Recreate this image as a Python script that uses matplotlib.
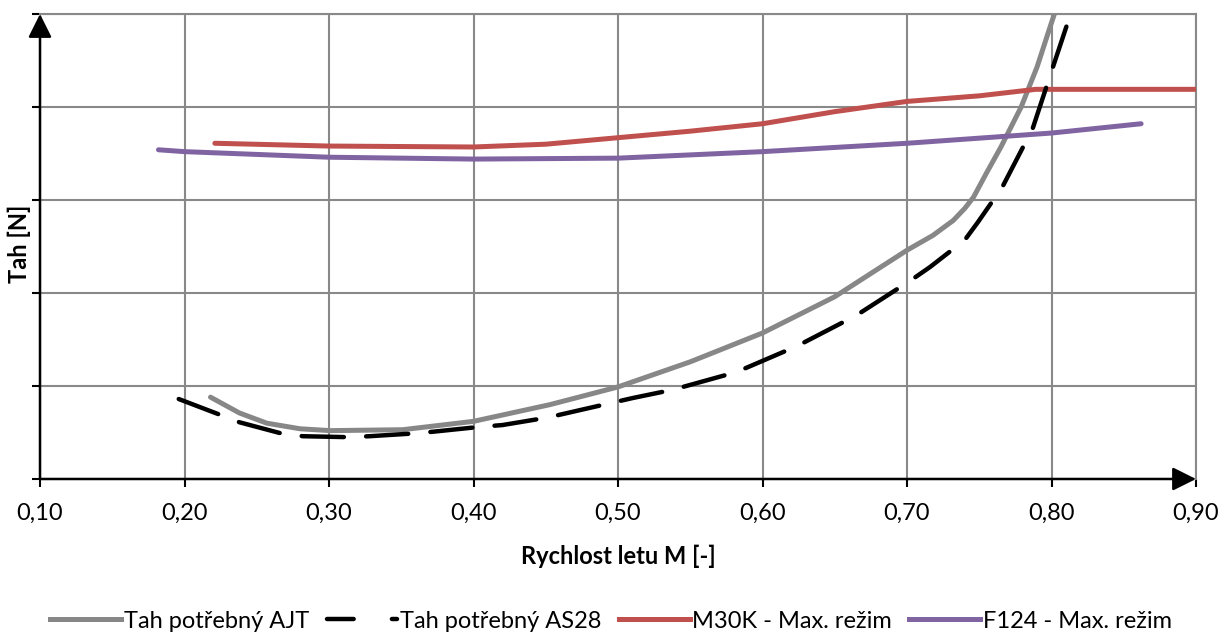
import numpy as np
import matplotlib.pyplot as plt
from matplotlib.lines import Line2D

plt.rcParams['font.family'] = ['Lato', 'DejaVu Sans']

# Tah potřebný AJT (gray)
m_ajt = [0.218, 0.238, 0.257, 0.280, 0.301, 0.351, 0.40, 0.453, 0.50, 0.55,
         0.60, 0.65, 0.681, 0.70, 0.718, 0.732, 0.740, 0.746, 0.755, 0.765,
         0.779, 0.790, 0.799, 0.802]
t_ajt = [0.88, 0.71, 0.60, 0.54, 0.52, 0.53, 0.62, 0.80, 0.99, 1.26,
         1.57, 1.96, 2.27, 2.46, 2.62, 2.78, 2.91, 3.03, 3.29, 3.57,
         4.00, 4.43, 4.86, 5.00]

# Tah potřebný AS28 (black dashed)
m_as28 = [0.196, 0.223, 0.238, 0.267, 0.282, 0.313, 0.328, 0.359, 0.373, 0.404,
          0.420, 0.451, 0.510, 0.538, 0.582, 0.624, 0.665, 0.703, 0.716, 0.740,
          0.749, 0.766, 0.787, 0.801, 0.813]
t_as28 = [0.86, 0.70, 0.61, 0.49, 0.46, 0.45, 0.46, 0.49, 0.51, 0.56,
          0.58, 0.66, 0.87, 0.96, 1.15, 1.43, 1.76, 2.14, 2.28, 2.57,
          2.76, 3.14, 3.77, 4.43, 4.99]

# M30K - Max. režim (red)
m_m30k = [0.221, 0.30, 0.40, 0.45, 0.50, 0.55, 0.60, 0.65, 0.70, 0.75, 0.789, 0.90]
t_m30k = [3.61, 3.58, 3.57, 3.60, 3.67, 3.74, 3.82, 3.95, 4.06, 4.12, 4.19, 4.19]

# F124 - Max. režim (purple)
m_f124 = [0.182, 0.20, 0.30, 0.40, 0.50, 0.60, 0.70, 0.80, 0.862]
t_f124 = [3.54, 3.52, 3.46, 3.44, 3.45, 3.52, 3.61, 3.72, 3.82]

x_ticks = [0.1, 0.2, 0.3, 0.4, 0.5, 0.6, 0.7, 0.8, 0.9]
x_labels = ['0,10', '0,20', '0,30', '0,40', '0,50', '0,60', '0,70', '0,80', '0,90']

fig = plt.figure(figsize=(12.22, 6.38), dpi=100)
ax = fig.add_axes([40 / 1222, 1 - 479 / 638, 1156 / 1222, 465 / 638])

grid_c = '#898989'
lw = 3.6
ax.plot(m_ajt, t_ajt, color='#878787', lw=lw, solid_capstyle='round',
        solid_joinstyle='round', zorder=3)
ax.plot(m_as28, t_as28, color='black', lw=3.2, dashes=(9.5, 5),
        dash_capstyle='round', dash_joinstyle='round', zorder=4)
ax.plot(m_m30k, t_m30k, color='#C0504D', lw=lw, solid_capstyle='round',
        solid_joinstyle='round', zorder=3)
ax.plot(m_f124, t_f124, color='#8064A2', lw=lw, solid_capstyle='round',
        solid_joinstyle='round', zorder=3)

ax.set_xlim(0.1, 0.9)
ax.set_ylim(0, 5)
ax.set_xticks(x_ticks)
ax.set_xticklabels(x_labels, fontsize=17)
ax.set_yticks([0, 1, 2, 3, 4, 5])
ax.set_yticklabels([])
ax.tick_params(axis='both', direction='out', length=6, width=1.5, color='black', pad=11)
ax.grid(True, color=grid_c, lw=1.5, zorder=0)
ax.set_axisbelow(True)

for s in ['top', 'right']:
    ax.spines[s].set_color(grid_c)
    ax.spines[s].set_linewidth(1.5)
for s in ['left', 'bottom']:
    ax.spines[s].set_visible(False)

# axes with arrow heads
arrow = dict(arrowstyle='-|>,head_length=1.1,head_width=0.55', color='black',
             lw=1.8, mutation_scale=13, shrinkA=0, shrinkB=0)
ax.annotate('', xy=(0.1, 5), xytext=(0.1, 0), annotation_clip=False,
            arrowprops=arrow, zorder=5)
ax.annotate('', xy=(0.9, 0), xytext=(0.1, 0), annotation_clip=False,
            arrowprops=arrow, zorder=5)

ax.set_xlabel('Rychlost letu M [-]', fontsize=17, fontweight='bold', labelpad=15)
ax.set_ylabel('Tah [N]', fontsize=17, fontweight='bold')
ax.yaxis.set_label_coords(-0.008, 0.505)

handles = [
    Line2D([], [], color='#878787', lw=lw),
    Line2D([], [], color='black', lw=3.2, dashes=(6, 8.6), dash_capstyle='round'),
    Line2D([], [], color='#C0504D', lw=lw),
    Line2D([], [], color='#8064A2', lw=lw),
]
labels = ['Tah potřebný AJT', 'Tah potřebný AS28', 'M30K - Max. režim', 'F124 - Max. režim']
fig.legend(handles, labels, loc='center', bbox_to_anchor=(0.5, 1 - 621 / 638), ncol=4,
           frameon=False, fontsize=17, handlelength=3.0, handletextpad=0.1,
           columnspacing=0.75, borderpad=0)

fig.savefig('out.png', dpi=100)
